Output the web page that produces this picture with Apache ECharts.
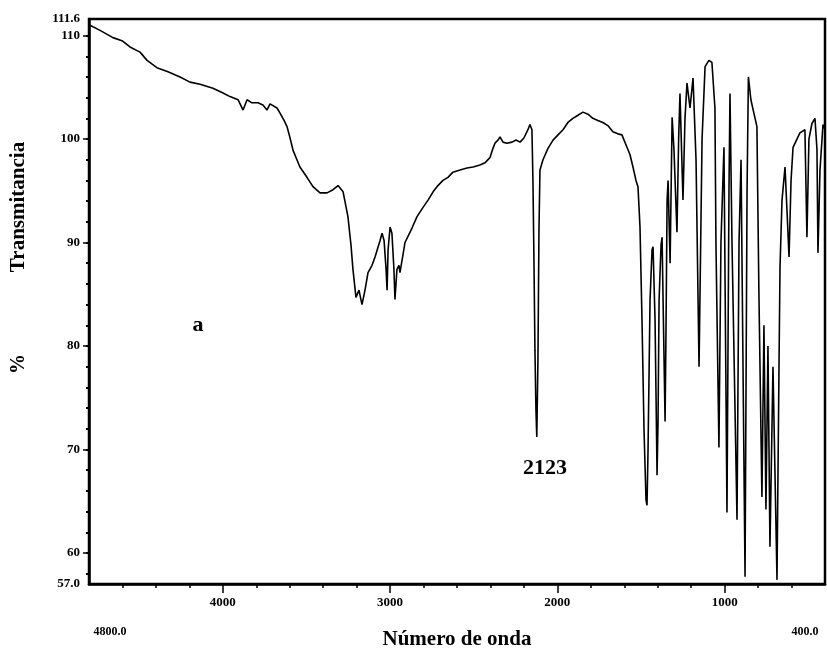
<!DOCTYPE html>
<html>
<head>
<meta charset="utf-8">
<script src="https://cdn.jsdelivr.net/npm/echarts@6/dist/echarts.min.js"></script>
<style>
  html, body { margin: 0; padding: 0; background: #fff; }
  #chart { width: 827px; height: 657px; }
</style>
</head>
<body>
<div id="chart"></div>
<script>
// IR spectrum: wavenumber (cm-1) and % transmittance
const wavenumbers = [
  4794, 4734, 4657, 4603, 4555, 4495, 4453, 4394, 4328, 4256, 4196, 4136, 4059, 4005,
  3957, 3909, 3879, 3855, 3826, 3790, 3760, 3736, 3718, 3676, 3658, 3634, 3616, 3598,
  3580, 3557, 3539, 3497, 3461, 3419, 3377, 3341, 3311, 3281, 3252, 3234, 3222, 3204,
  3186, 3168, 3150, 3132, 3108, 3090, 3060, 3048, 3036, 3024, 3018, 3012, 3000, 2989,
  2977, 2971, 2959, 2947, 2941, 2923, 2911, 2869, 2839, 2803, 2773, 2743, 2714, 2684,
  2654, 2624, 2582, 2540, 2504, 2463, 2433, 2403, 2385, 2373, 2355, 2343, 2325, 2301,
  2271, 2247, 2223, 2200, 2176, 2164, 2152, 2146, 2140, 2134, 2128, 2123, 2116, 2110,
  2104, 2086, 2056, 2026, 1996, 1966, 1937, 1907, 1877, 1847, 1817, 1788, 1758, 1728,
  1698, 1668, 1638, 1614, 1584, 1566, 1548, 1530, 1518, 1506, 1494, 1482, 1470, 1464,
  1458, 1446, 1434, 1428, 1416, 1404, 1398, 1392, 1380, 1374, 1368, 1356, 1350, 1344,
  1338, 1326, 1314, 1303, 1297, 1285, 1275, 1267, 1249, 1237, 1225, 1207, 1189, 1171,
  1153, 1135, 1117, 1094, 1076, 1058, 1052, 1034, 1022, 1004, 986, 974, 968, 956,
  926, 914, 902, 878, 866, 858, 843, 807, 795, 777, 765, 753, 741, 729, 711, 687,
  675, 669, 657, 639, 627, 615, 603, 591, 550, 520, 508, 496, 478, 460, 448, 442,
  430, 412, 400
];
const transmittance = [
  111.0, 110.5, 109.8, 109.5, 108.9, 108.4, 107.6, 106.9, 106.5, 106.0, 105.5, 105.3, 104.9, 104.5,
  104.1, 103.8, 102.8, 103.8, 103.5, 103.5, 103.3, 102.8, 103.4, 103.0, 102.5, 101.8, 101.2, 100.1,
  98.9, 98.0, 97.3, 96.3, 95.4, 94.8, 94.8, 95.1, 95.5, 94.9, 92.5, 89.8, 87.4, 84.7,
  85.4, 84.0, 85.4, 87.1, 87.8, 88.6, 90.2, 90.9, 90.2, 87.4, 85.4, 89.3, 91.5, 90.9,
  87.4, 84.5, 87.4, 87.8, 87.1, 88.8, 90.0, 91.4, 92.5, 93.4, 94.1, 94.9, 95.5, 96.0,
  96.3, 96.8, 97.0, 97.2, 97.3, 97.5, 97.7, 98.2, 99.1, 99.6, 99.9, 100.2, 99.7, 99.6,
  99.7, 99.9, 99.7, 100.1, 100.9, 101.4, 100.9, 96.0, 88.3, 79.6, 73.8, 71.2, 78.7, 91.2,
  97.0, 98.0, 99.1, 99.9, 100.4, 100.9, 101.6, 102.0, 102.3, 102.6, 102.4, 102.0, 101.8, 101.6,
  101.3, 100.7, 100.5, 100.4, 99.2, 98.5, 97.3, 96.0, 95.4, 91.5, 82.5, 71.9, 65.1, 64.6,
  69.9, 84.4, 89.3, 89.6, 82.5, 67.5, 72.9, 84.4, 89.8, 90.5, 84.4, 72.7, 82.5, 94.1,
  96.0, 88.0, 102.1, 99.0, 98.9, 91.0, 100.0, 104.4, 94.1, 102.0, 105.4, 103.0, 105.9, 98.0,
  78.0, 100.0, 107.0, 107.6, 107.4, 103.0, 90.0, 70.2, 90.0, 99.2, 63.9, 95.0, 104.4, 90.0,
  63.2, 90.0, 98.0, 57.7, 95.0, 106.0, 103.8, 101.2, 85.0, 65.4, 82.0, 64.2, 80.0, 60.6, 78.0, 57.4,
  78.0, 87.6, 94.1, 97.3, 93.0, 88.6, 96.0, 99.2, 100.6, 100.9, 90.5, 100.0, 101.5, 102.0, 99.0, 89.0,
  97.0, 101.4, 100.9
];

// Axis ticks and labels
const xMinorTicks = [];
for (let v = 600; v <= 4600; v += 200) xMinorTicks.push(v);
const xMajorTicks = [1000, 2000, 3000, 4000];
const xTickLabels = [1000, 2000, 3000, 4000];
const xEndLabels = ['4800.0', '400.0'];
const yMinorTicks = [];
for (let v = 58; v <= 110; v += 2) yMinorTicks.push(v);
const yMajorTicks = [60, 70, 80, 90, 100, 110];
const yTickLabels = [57, 60, 70, 80, 90, 100, 110, 111.6];

const xName = 'Número de onda';
const yNamePct = '%';
const yNameWord = 'Transmitancia';
const sampleLabel = 'a';
const peakLabel = '2123';

const FONT = '"Liberation Serif", "DejaVu Serif", serif';
const points = wavenumbers.map((w, i) => [w, transmittance[i]]);

const chart = echarts.init(document.getElementById('chart'), null, { renderer: 'canvas' });

const xBase = {
  type: 'value', min: 400, max: 4800, inverse: true,
  splitLine: { show: false }
};
const yBase = {
  type: 'value', min: 57, max: 111.6,
  splitLine: { show: false }
};

chart.setOption({
  animation: false,
  backgroundColor: '#fff',
  grid: {
    left: 89, right: 2, top: 19, bottom: 73,
    show: true, borderColor: '#000', borderWidth: 2.5
  },
  xAxis: [
    Object.assign({}, xBase, {
      position: 'bottom',
      axisLine: { show: true, lineStyle: { color: '#000', width: 2.5 } },
      axisTick: { show: true, length: 4, lineStyle: { color: '#000', width: 1.5 }, customValues: xMinorTicks },
      axisLabel: {
        show: true, customValues: xTickLabels, margin: 12,
        color: '#000', fontFamily: FONT, fontWeight: 'bold', fontSize: 13,
        formatter: v => String(v)
      }
    }),
    Object.assign({}, xBase, {
      position: 'bottom',
      axisLine: { show: false },
      axisTick: { show: true, length: 9, lineStyle: { color: '#000', width: 1.5 }, customValues: xMajorTicks },
      axisLabel: { show: false }
    })
  ],
  yAxis: [
    Object.assign({}, yBase, {
      position: 'left',
      axisLine: { show: true, lineStyle: { color: '#000', width: 2.5 } },
      axisTick: { show: true, length: 6, lineStyle: { color: '#000', width: 1.5 }, customValues: yMajorTicks },
      axisLabel: {
        show: true, customValues: yTickLabels, margin: 9,
        color: '#000', fontFamily: FONT, fontWeight: 'bold', fontSize: 13,
        formatter: v => (v === 57 || v === 111.6) ? v.toFixed(1) : String(v)
      }
    }),
    Object.assign({}, yBase, {
      position: 'left',
      axisLine: { show: false },
      axisTick: { show: true, length: 3, lineStyle: { color: '#000', width: 2 }, customValues: yMinorTicks },
      axisLabel: { show: false }
    })
  ],
  series: [{
    type: 'line',
    xAxisIndex: 0, yAxisIndex: 0,
    data: points,
    showSymbol: false,
    symbol: 'none',
    lineStyle: { color: '#000', width: 1.6 },
    clip: true
  }],
  graphic: [
    { type: 'text', x: 110, y: 632, style: { text: xEndLabels[0], font: 'bold 12px ' + FONT, fill: '#000', align: 'center', verticalAlign: 'middle' } },
    { type: 'text', x: 805, y: 632, style: { text: xEndLabels[1], font: 'bold 12px ' + FONT, fill: '#000', align: 'center', verticalAlign: 'middle' } },
    { type: 'text', x: 457, y: 640, style: { text: xName, font: 'bold 21px ' + FONT, fill: '#000', align: 'center', verticalAlign: 'middle' } },
    { type: 'text', x: 19, y: 207, rotation: Math.PI / 2, style: { text: yNameWord, font: 'bold 21px ' + FONT, fill: '#000', align: 'center', verticalAlign: 'middle' } },
    { type: 'text', x: 19, y: 364, rotation: Math.PI / 2, style: { text: yNamePct, font: 'bold 20px ' + FONT, fill: '#000', align: 'center', verticalAlign: 'middle' } },
    { type: 'text', x: 198, y: 325, style: { text: sampleLabel, font: 'bold 22px ' + FONT, fill: '#000', align: 'center', verticalAlign: 'middle' } },
    { type: 'text', x: 545, y: 468, style: { text: peakLabel, font: 'bold 22px ' + FONT, fill: '#000', align: 'center', verticalAlign: 'middle' } }
  ]
});
</script>
</body>
</html>
